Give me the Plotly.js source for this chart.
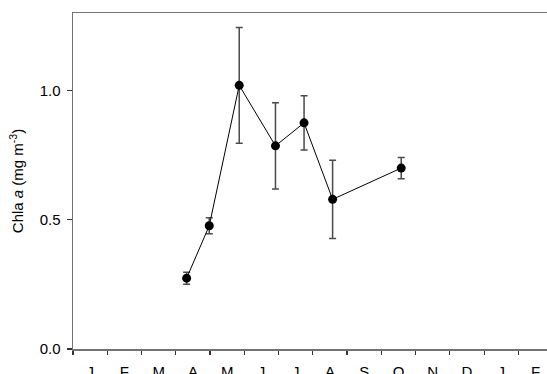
<!DOCTYPE html>
<html>
<head>
<meta charset="utf-8">
<script src="https://cdn.plot.ly/plotly-3.0.1.min.js"></script>
<style>html,body{margin:0;padding:0;background:#fff;overflow:hidden}#chart{width:547px;height:374px}</style>
</head>
<body>
<div id="chart"></div>
<script>
// month position (0 = 1 Jan), measured in months
const sampleMonth = [3.317, 3.977, 4.852, 5.910, 6.744, 7.577, 9.580];
const chlaMean    = [0.274, 0.477, 1.020, 0.786, 0.875, 0.579, 0.700];
const chlaErr     = [0.023, 0.031, 0.224, 0.167, 0.105, 0.151, 0.041];
const monthLabels = ['J','F','M','A','M','J','J','A','S','O','N','D','J','F'];
const monthTicks  = [0,1,2,3,4,5,6,7,8,9,10,11,12,13,14];

const labelPos = monthLabels.map((_, i) => i + 0.5);

const fontFam = 'Liberation Sans, Arial, sans-serif';
const axisCol = '#737373';
const xRange = [0, 13.835];

const traces = [{
  x: sampleMonth,
  y: chlaMean,
  type: 'scatter',
  mode: 'lines+markers',
  line: {color: '#000', width: 1},
  marker: {color: '#000', size: 9},
  error_y: {type: 'data', array: chlaErr, visible: true, color: '#4a4a4a', thickness: 1.5, width: 3.5},
  showlegend: false,
  cliponaxis: false
}, {
  x: [0], y: [null], xaxis: 'x2', type: 'scatter', mode: 'markers', showlegend: false, hoverinfo: 'skip'
}];

const layout = {
  width: 547, height: 374,
  margin: {l: 72.5, r: 0, t: 13, b: 25, pad: 0},
  paper_bgcolor: '#fff', plot_bgcolor: '#fff',
  font: {family: fontFam, size: 15, color: '#000'},
  xaxis: {
    range: xRange, showgrid: false, zeroline: false,
    showline: true, mirror: true, linecolor: axisCol, linewidth: 1.5,
    tickmode: 'array', tickvals: monthTicks, showticklabels: false,
    ticks: 'outside', ticklen: 4, tickwidth: 1.2, tickcolor: '#333',
    automargin: false
  },
  xaxis2: {
    overlaying: 'x', anchor: 'y', side: 'bottom', range: xRange,
    showgrid: false, zeroline: false, showline: false,
    tickmode: 'array', tickvals: labelPos, ticktext: monthLabels,
    ticks: '', ticklabelstandoff: 12,
    tickfont: {family: fontFam, size: 15, color: '#000'},
    automargin: false
  },
  yaxis: {
    range: [0, 1.3], showgrid: false, zeroline: false,
    showline: true, mirror: false, linecolor: axisCol, linewidth: 1.5,
    tickmode: 'array', tickvals: [0, 0.5, 1.0], ticktext: ['0.0', '0.5', '1.0'],
    ticks: 'outside', ticklen: 5, tickwidth: 1.2, tickcolor: '#333',
    ticklabelstandoff: 3,
    tickfont: {family: fontFam, size: 15, color: '#000'},
    title: {text: 'Chla <i>a</i> (mg m<sup>-3</sup>)', font: {family: fontFam, size: 15, color: '#000'}, standoff: 12},
    automargin: false
  }
};

Plotly.newPlot('chart', traces, layout, {staticPlot: true, displayModeBar: false});
</script>
</body>
</html>
